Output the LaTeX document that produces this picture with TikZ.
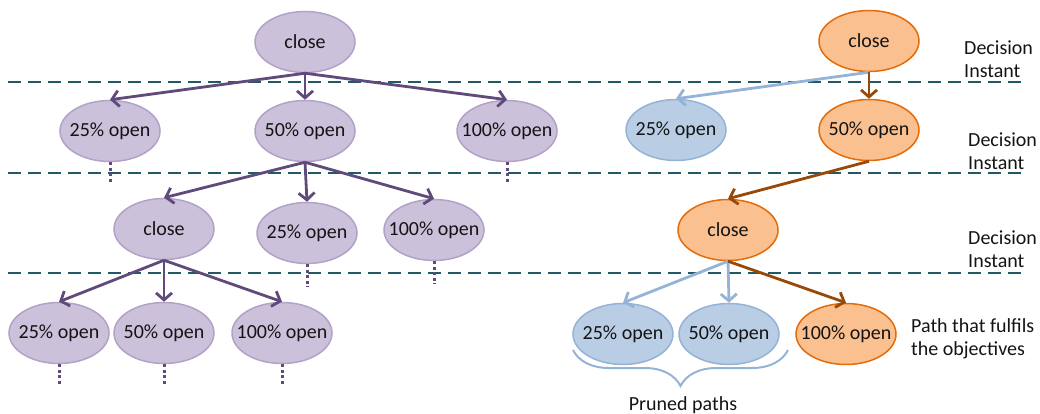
\documentclass[tikz,border=0pt]{standalone}
\usepackage{fontspec}
\setmainfont{Carlito}
\usetikzlibrary{shapes.geometric,arrows.meta,decorations.pathreplacing}
\definecolor{pfill}{RGB}{204,193,218}
\definecolor{pborder}{RGB}{179,162,199}
\definecolor{parrow}{RGB}{96,74,123}
\definecolor{ofill}{RGB}{250,192,144}
\definecolor{oborder}{RGB}{228,108,10}
\definecolor{oarrow}{RGB}{152,72,7}
\definecolor{bfill}{RGB}{185,205,229}
\definecolor{bborder}{RGB}{149,179,215}
\definecolor{dashcol}{RGB}{33,89,103}
\definecolor{txt}{RGB}{20,20,20}
\newcommand{\ct}[1]{\makebox[0pt]{#1}}
\begin{document}
\begin{tikzpicture}[x=1pt,y=-1pt,
  font=\fontsize{20}{23}\selectfont, text=txt,
  base/.style={ellipse, line width=1.5pt, minimum width=100pt, minimum height=61pt, inner sep=0pt},
  pnode/.style={base, fill=pfill, draw=pborder},
  onode/.style={base, fill=ofill, draw=oborder},
  bnode/.style={base, fill=bfill, draw=bborder},
  tip/.style={-{Straight Barb[length=7pt,width=16pt]}},
  parr/.style={draw=parrow, line width=2.8pt, tip},
  oarr/.style={draw=oarrow, line width=2.8pt, tip},
  barr/.style={draw=bborder, line width=2.8pt, tip},
  instant/.style={draw=dashcol, line width=2pt, dash pattern=on 13pt off 7pt},
  pdots/.style={draw=parrow, line width=3pt, dash pattern=on 3pt off 2.5pt},
  lbl/.style={align=left, anchor=west, inner sep=0pt}
]
\useasboundingbox (0,0) rectangle (1040,414);
% decision instant lines
\coordinate (d1a) at (8,82);  \coordinate (d1b) at (1028,82);
\coordinate (d2a) at (8,173); \coordinate (d2b) at (1028,173);
\coordinate (d3a) at (8,273); \coordinate (d3b) at (1028,273);
\draw[instant] (d1a) -- (d1b);
\draw[instant] (d2a) -- (d2b);
\draw[instant] (d3a) -- (d3b);

% left tree
\node[pnode] (L0) at (305,42) {\ct{close}};
\node[pnode] (L1a) at (110,131) {\ct{25\% open}};
\node[pnode] (L1b) at (305,131) {\ct{50\% open}};
\node[pnode] (L1c) at (507,131) {\ct{100\% open}};
\node[pnode] (L2a) at (164,229) {\ct{close}};
\node[pnode] (L2b) at (307,233) {\ct{25\% open}};
\node[pnode] (L2c) at (434,230) {\ct{100\% open}};
\node[pnode] (L3a) at (59,333) {\ct{25\% open}};
\node[pnode] (L3b) at (164,333) {\ct{50\% open}};
\node[pnode] (L3c) at (282,333) {\ct{100\% open}};

\draw[parr] (L0.south) -- (L1a.north);
\draw[parr] (L0.south) -- (L1b.north);
\draw[parr] (L0.south) -- (L1c.north);
\draw[parr] (L1b.south) -- (L2a.north);
\draw[parr] (L1b.south) -- (L2b.north);
\draw[parr] (L1b.south) -- (L2c.north);
\draw[parr] (L2a.south) -- (L3a.north);
\draw[parr] (L2a.south) -- (L3b.north);
\draw[parr] (L2a.south) -- (L3c.north);

\coordinate (e1a) at (110,184);
\coordinate (e1c) at (507,184);
\coordinate (e2b) at (307,287);
\coordinate (e2c) at (434,284);
\coordinate (e3a) at (59,386);
\coordinate (e3b) at (164,386);
\coordinate (e3c) at (282,386);
\draw[pdots] (L1a.south) -- (e1a);
\draw[pdots] (L1c.south) -- (e1c);
\draw[pdots] (L2b.south) -- (e2b);
\draw[pdots] (L2c.south) -- (e2c);
\draw[pdots] (L3a.south) -- (e3a);
\draw[pdots] (L3b.south) -- (e3b);
\draw[pdots] (L3c.south) -- (e3c);

% right tree
\node[onode] (R0) at (869,41) {\ct{close}};
\node[bnode] (R1a) at (676,130) {\ct{25\% open}};
\node[onode] (R1b) at (869,130) {\ct{50\% open}};
\node[onode] (R2) at (728,230) {\ct{close}};
\node[bnode] (R3a) at (623,334) {\ct{25\% open}};
\node[bnode] (R3b) at (729,334) {\ct{50\% open}};
\node[onode] (R3c) at (846,334) {\ct{100\% open}};

\draw[barr] (R0.south) -- (R1a.north);
\draw[oarr] (R0.south) -- (R1b.north);
\draw[oarr] (R1b.south) -- (R2.north);
\draw[barr] (R2.south) -- (R3a.north);
\draw[barr] (R2.south) -- (R3b.north);
\draw[oarr] (R2.south) -- (R3c.north);

% labels
\node[lbl] (t1) at (964,59.5) {Decision\\Instant};
\node[lbl] (t2) at (968,151.5) {Decision\\Instant};
\node[lbl] (t3) at (968,249.5) {Decision\\Instant};
\node[lbl] (t4) at (911,338.5) {Path that fulfils\\the objectives};

\coordinate (b1) at (573,350);
\coordinate (b2) at (788,350);
\draw[draw=bborder, line width=2pt, decorate, decoration={brace, mirror, amplitude=36pt}] (b1) -- (b2);
\node[inner sep=0pt] (pp) at (683,405) {Pruned paths};
\end{tikzpicture}
\end{document}
